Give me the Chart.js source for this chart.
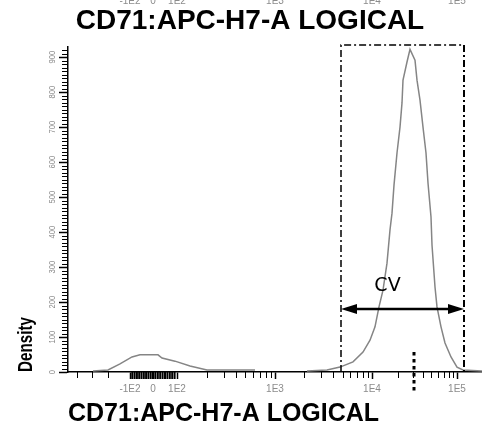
<!DOCTYPE html>
<html>
<head>
<meta charset="utf-8">
<style>
  html, body { margin: 0; padding: 0; background: #fff; }
  #wrap { width: 482px; height: 430px; position: relative; }
</style>
<script src="https://cdn.jsdelivr.net/npm/chart.js@4/dist/chart.umd.min.js"></script>
</head>
<body>
<div id="wrap"><canvas id="histogram"></canvas></div>
<script>
// x values are display channels of the logicle axis, y values are event density
const densityChannels = [25, 40, 52, 64, 72, 90, 94, 107, 122, 139, 187, 213, 239, 259, 272, 285, 295, 302, 307, 311, 315, 319, 322, 324, 326, 329, 332, 334, 335, 339, 342, 347, 349, 352, 355, 358, 360, 363, 364, 367, 369, 373, 377, 383, 389, 395, 414];
const densityValues = [3, 6, 23, 43, 49, 49, 40, 31, 17, 6, 6, null, 3, 6, 14, 29, 57, 91, 129, 186, 234, 311, 406, 454, 534, 626, 700, 769, 834, 886, 922, 891, 834, 777, 700, 626, 540, 443, 363, 243, 186, 129, 83, 43, 14, 6, 3];

const xTickChannels = [62, 85, 109, 207, 304, 389];
const xTickLabels = ["-1E2", "0", "1E2", "1E3", "1E4", "1E5"];
const xNegativeMinor = [9, 24, 40];
const yTickValues = [0, 100, 200, 300, 400, 500, 600, 700, 800, 900];

const gateChannels = [273, 396];
const cvLevel = 180;
const medianChannel = 346;

const axisTitle = "CD71:APC-H7-A LOGICAL";
const sans = "'Liberation Sans', Arial, sans-serif";
const narrow = "'Liberation Sans Narrow', 'Liberation Sans', sans-serif";
const colors = { curve: "#858585", label: "#8c8c8c", ink: "#000" };

const overlay = {
  id: "overlay",
  afterDraw(chart) {
    const { ctx, scales: { x, y } } = chart;
    ctx.save();
    ctx.strokeStyle = colors.ink;

    // minor ticks on x
    ctx.lineWidth = 1;
    minorXTicks().forEach((v) => {
      const px = Math.round(x.getPixelForValue(v)) + 0.5;
      ctx.beginPath();
      ctx.moveTo(px, y.bottom);
      ctx.lineTo(px, y.bottom + 6);
      ctx.stroke();
    });
    // dense linear region around zero
    ctx.lineWidth = 2;
    for (let v = -90; v <= 90; v += 10) {
      const c = v < 0 ? 85 + v * 0.23 : 85 + v * 0.24;
      const px = x.getPixelForValue(c);
      ctx.beginPath();
      ctx.moveTo(px, y.bottom);
      ctx.lineTo(px, y.bottom + 7);
      ctx.stroke();
    }

    // minor ticks on y
    ctx.lineWidth = 1;
    ctx.beginPath();
    for (let v = 10; v < 930; v += 10) {
      if (v % 100 === 0) continue;
      const py = Math.round(y.getPixelForValue(v)) + 0.5;
      ctx.moveTo(x.left - 6, py);
      ctx.lineTo(x.left, py);
    }
    ctx.stroke();

    // rotated y labels
    ctx.fillStyle = colors.label;
    ctx.font = `9px ${narrow}`;
    ctx.textAlign = "center";
    ctx.textBaseline = "middle";
    yTickValues.forEach((v) => {
      ctx.save();
      ctx.translate(x.left - 15, y.getPixelForValue(v));
      ctx.rotate(-Math.PI / 2);
      ctx.scale(0.85, 1);
      ctx.fillText(String(v), 0, 0);
      ctx.restore();
    });

    // y axis title, condensed
    ctx.save();
    ctx.fillStyle = colors.ink;
    ctx.font = `bold 20px ${narrow}`;
    ctx.textAlign = "left";
    ctx.translate(26, y.bottom);
    ctx.rotate(-Math.PI / 2);
    ctx.scale(0.76, 1.05);
    ctx.fillText("Density", 0, 0);
    ctx.restore();

    // cut-off labels of the plot above
    ctx.fillStyle = colors.label;
    ctx.font = `10px ${sans}`;
    ctx.textBaseline = "alphabetic";
    xTickChannels.forEach((v, i) => {
      ctx.fillText(xTickLabels[i], x.getPixelForValue(v), 4);
    });

    // gate
    const gl = x.getPixelForValue(gateChannels[0]);
    const gr = x.getPixelForValue(gateChannels[1]);
    const gt = y.top - 1.5;
    const gb = y.bottom;
    ctx.setLineDash([7, 3, 2, 3]);
    ctx.lineWidth = 1.5;
    ctx.beginPath();
    ctx.moveTo(gl, gb);
    ctx.lineTo(gl, gt);
    ctx.lineTo(gr, gt);
    ctx.stroke();
    ctx.lineWidth = 2;
    ctx.beginPath();
    ctx.moveTo(gr, gt);
    ctx.lineTo(gr, gb);
    ctx.stroke();

    // CV arrow
    ctx.setLineDash([]);
    const ay = y.getPixelForValue(cvLevel);
    ctx.lineWidth = 2.5;
    ctx.beginPath();
    ctx.moveTo(gl + 10, ay);
    ctx.lineTo(gr - 10, ay);
    ctx.stroke();
    ctx.fillStyle = colors.ink;
    arrowHead(ctx, gl, ay, 1);
    arrowHead(ctx, gr, ay, -1);
    ctx.font = `19px 'DejaVu Sans', sans-serif`;
    ctx.textAlign = "center";
    ctx.textBaseline = "middle";
    ctx.fillText("CV", (gl + gr) / 2 - 15, ay - 23);

    // median marker
    const mx = x.getPixelForValue(medianChannel);
    ctx.lineWidth = 3;
    ctx.setLineDash([3.5, 3.5]);
    ctx.beginPath();
    ctx.moveTo(mx, y.getPixelForValue(57));
    ctx.lineTo(mx, y.bottom + 20);
    ctx.stroke();

    ctx.restore();
  },
};

new Chart(document.querySelector("#histogram"), {
  type: "line",
  data: {
    datasets: [
      {
        data: densityChannels.map((c, i) => ({ x: c, y: densityValues[i] })),
        borderColor: colors.curve,
        borderWidth: 1.5,
        pointRadius: 0,
        tension: 0,
        fill: false,
        spanGaps: false,
      },
    ],
  },
  options: {
    responsive: true,
    maintainAspectRatio: false,
    animation: false,
    layout: { padding: { left: 18, right: 0, top: 0, bottom: 0 } },
    plugins: {
      legend: { display: false },
      tooltip: { enabled: false },
      title: {
        display: true,
        text: axisTitle,
        color: colors.ink,
        font: { family: sans, size: 28, weight: "bold", lineHeight: 1.2 },
        padding: { top: 4, bottom: 9 },
      },
    },
    scales: {
      x: {
        type: "linear",
        min: 0,
        max: 414,
        afterBuildTicks(scale) {
          scale.ticks = xTickChannels.map((value) => ({ value }));
        },
        afterFit(scale) {
          scale.height = 58;
        },
        grid: { drawOnChartArea: false, tickLength: 7, tickColor: colors.ink, tickWidth: 1.5 },
        border: { color: colors.ink, width: 1.5 },
        ticks: {
          autoSkip: false,
          maxRotation: 0,
          padding: 4,
          color: colors.label,
          font: { family: sans, size: 10 },
          callback: (value, index) => xTickLabels[index],
        },
        title: {
          display: true,
          text: axisTitle,
          align: "start",
          color: colors.ink,
          font: { family: sans, size: 25, weight: "bold", lineHeight: 1.2 },
          padding: { top: 0, bottom: 1 },
        },
      },
      y: {
        min: 0,
        max: 930,
        afterBuildTicks(scale) {
          scale.ticks = yTickValues.map((value) => ({ value }));
        },
        afterFit(scale) {
          scale.width = 50;
        },
        grid: { drawOnChartArea: false, tickLength: 9, tickColor: colors.ink, tickWidth: 1.5 },
        border: { color: colors.ink, width: 1.5 },
        ticks: { display: false },
      },
    },
  },
  plugins: [overlay],
});

function minorXTicks() {
  const out = [...xNegativeMinor];
  // log-spaced minors inside each positive decade
  for (let d = 2; d < xTickChannels.length - 1; d++) {
    const from = xTickChannels[d];
    const to = xTickChannels[d + 1];
    for (let k = 2; k <= 9; k++) out.push(from + Math.log10(k) * (to - from));
  }
  const last = xTickChannels[xTickChannels.length - 1];
  out.push(last + Math.log10(2) * (xTickChannels[4] - xTickChannels[3]));
  return out;
}

function arrowHead(ctx, tipX, tipY, dir) {
  ctx.beginPath();
  ctx.moveTo(tipX, tipY);
  ctx.lineTo(tipX + dir * 16, tipY - 5);
  ctx.lineTo(tipX + dir * 16, tipY + 5);
  ctx.closePath();
  ctx.fill();
}
</script>
</body>
</html>
